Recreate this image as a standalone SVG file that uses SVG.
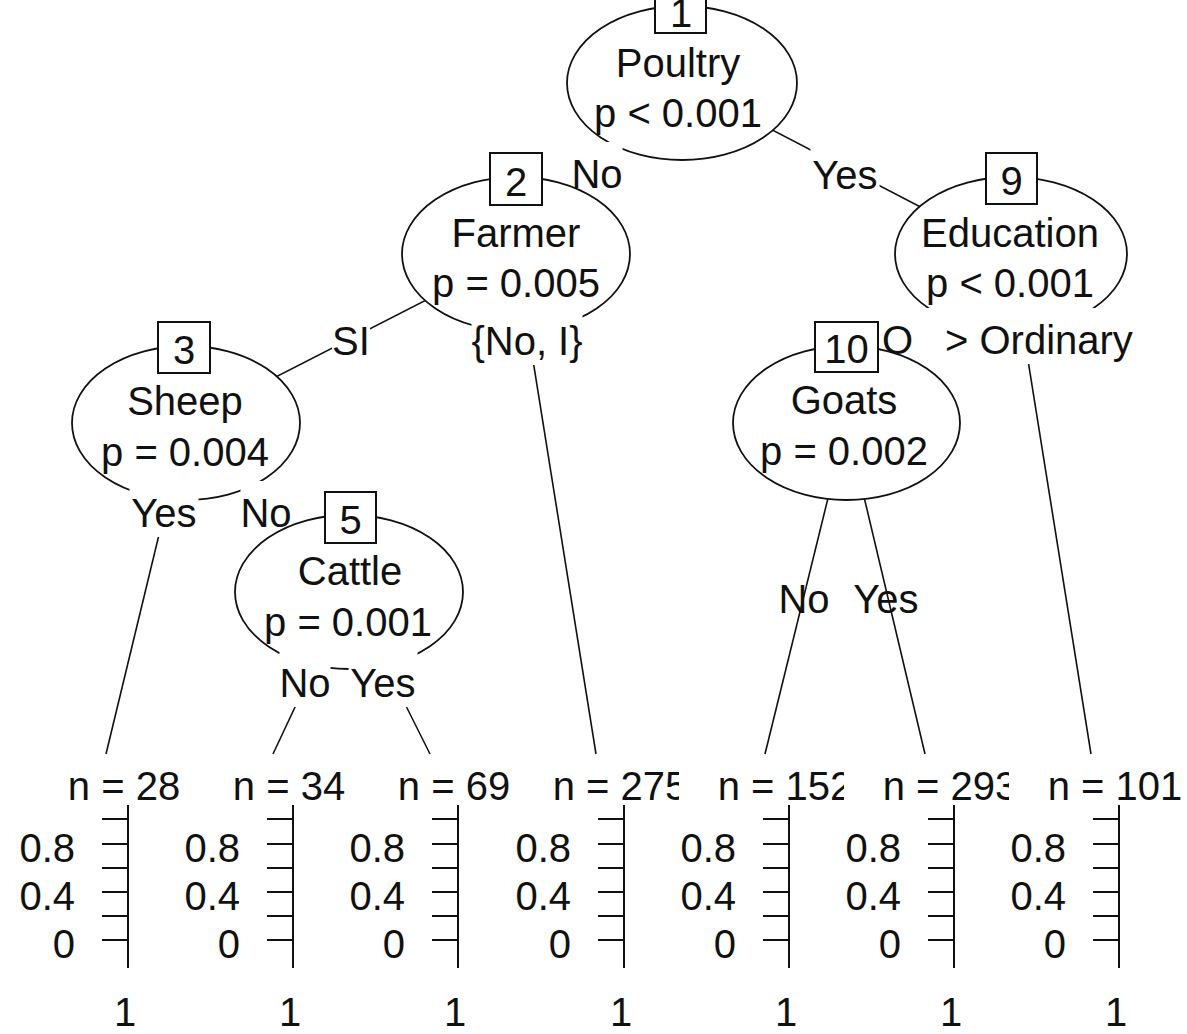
<svg xmlns="http://www.w3.org/2000/svg" width="1187" height="1034" viewBox="0 0 1187 1034">
<style>
text{font-family:"Liberation Sans",Arial,sans-serif;font-size:40px;fill:#111}
.c{text-anchor:middle}
.e{text-anchor:end}
.el{fill:#fff;stroke:#111;stroke-width:1.8}
.bx{fill:#fff;stroke:#111;stroke-width:2}
.ln{stroke:#111;stroke-width:1.6;fill:none}
.ax{stroke:#111;stroke-width:2;fill:none}
.bg{fill:#fff}
</style>
<defs>
<clipPath id="clip275"><rect x="0" y="740" width="679" height="80"/></clipPath>
<clipPath id="clip152"><rect x="0" y="740" width="844" height="80"/></clipPath>
<clipPath id="clip293"><rect x="0" y="740" width="1009" height="80"/></clipPath>
<g id="ticks">
<line x1="0" y1="805" x2="0" y2="968"/>
<line x1="-26" y1="819" x2="0" y2="819"/>
<line x1="-26" y1="844" x2="0" y2="844"/>
<line x1="-26" y1="868" x2="0" y2="868"/>
<line x1="-26" y1="892" x2="0" y2="892"/>
<line x1="-26" y1="916" x2="0" y2="916"/>
<line x1="-26" y1="940" x2="0" y2="940"/>
</g>
</defs>

<g id="connectors" class="ln">
<line x1="682" y1="83" x2="516" y2="254"/>
<line x1="682" y1="83" x2="1011" y2="254"/>
<line x1="516" y1="254" x2="186" y2="423"/>
<line x1="516" y1="254" x2="596" y2="754"/>
<line x1="186" y1="423" x2="106" y2="754"/>
<line x1="186" y1="423" x2="349" y2="592"/>
<line x1="349" y1="592" x2="273" y2="754"/>
<line x1="349" y1="592" x2="430" y2="754"/>
<line x1="1011" y1="254" x2="846.5" y2="423"/>
<line x1="1011" y1="254" x2="1091" y2="754"/>
<line x1="846.5" y1="423" x2="765" y2="754"/>
<line x1="846.5" y1="423" x2="925" y2="754"/>
</g>

<g id="node1">
<ellipse class="el" cx="682" cy="83" rx="115" ry="77"/>
<rect class="bx" x="655" y="-19" width="51" height="52"/>
<text class="c" x="681" y="27">1</text>
<text class="c" x="678" y="77">Poultry</text>
<text class="c" x="678" y="127">p &lt; 0.001</text>
</g>
<g id="labels-node1">
<rect class="bg" x="571.5" y="142" width="51" height="56"/>
<text class="c" x="597" y="188">No</text>
<rect class="bg" x="810.5" y="143" width="69" height="56"/>
<text class="c" x="845" y="189">Yes</text>
</g>

<g id="node2">
<ellipse class="el" cx="516" cy="254" rx="114" ry="77"/>
<rect class="bx" x="490" y="153" width="52" height="52"/>
<text class="c" x="516" y="196">2</text>
<text class="c" x="516" y="247">Farmer</text>
<text class="c" x="516" y="297">p = 0.005</text>
</g>
<g id="labels-node2">
<rect class="bg" x="332" y="309" width="38" height="56"/>
<text class="c" x="351" y="355">SI</text>
<rect class="bg" x="471.5" y="309" width="111" height="56"/>
<text class="c" x="527" y="355">{No, I}</text>
</g>

<g id="node3">
<ellipse class="el" cx="186" cy="423" rx="114" ry="77"/>
<rect class="bx" x="158" y="322" width="52" height="51"/>
<text class="c" x="184" y="364">3</text>
<text class="c" x="185" y="415">Sheep</text>
<text class="c" x="185" y="466">p = 0.004</text>
</g>
<g id="labels-node3">
<rect class="bg" x="129.5" y="481" width="69" height="56"/>
<text class="c" x="164" y="527">Yes</text>
<rect class="bg" x="240.5" y="481" width="51" height="56"/>
<text class="c" x="266" y="527">No</text>
</g>

<g id="node5">
<ellipse class="el" cx="349" cy="592" rx="114" ry="77"/>
<rect class="bx" x="325" y="492" width="51" height="51"/>
<text class="c" x="350.5" y="534">5</text>
<text class="c" x="350" y="585">Cattle</text>
<text class="c" x="348" y="636">p = 0.001</text>
</g>
<g id="labels-node5">
<rect class="bg" x="279.5" y="651" width="51" height="56"/>
<text class="c" x="305" y="697">No</text>
<rect class="bg" x="348.5" y="651" width="69" height="56"/>
<text class="c" x="383" y="697">Yes</text>
</g>

<g id="node9">
<ellipse class="el" cx="1011" cy="254" rx="116" ry="77"/>
<rect class="bx" x="986" y="153" width="51" height="51"/>
<text class="c" x="1011.5" y="195">9</text>
<text class="c" x="1010" y="247">Education</text>
<text class="c" x="1010" y="297">p &lt; 0.001</text>
</g>
<g id="label-node9-left">
<rect class="bg" x="878" y="308" width="67" height="56"/>
<text x="882" y="354">O</text>
</g>

<g id="node10">
<ellipse class="el" cx="846.5" cy="423" rx="113.5" ry="77"/>
<rect class="bx" x="815" y="322" width="63" height="50"/>
<text class="c" x="846.5" y="363">10</text>
<text class="c" x="844" y="414">Goats</text>
<text class="c" x="844" y="465">p = 0.002</text>
</g>
<g id="labels-node10">
<text class="c" x="804" y="613">No</text>
<text class="c" x="886" y="613">Yes</text>
</g>

<g id="label-node9-right">
<rect class="bg" x="945" y="308" width="190" height="56"/>
<text x="945" y="354">&gt; Ordinary</text>
</g>

<g id="leaf4">
<text class="c" x="124" y="800">n = 28</text>
<use href="#ticks" x="128" class="ax"/>
<text class="e" x="75" y="862">0.8</text>
<text class="e" x="75" y="910">0.4</text>
<text class="e" x="75" y="958">0</text>
<text class="c" x="125" y="1026">1</text>
</g>
<g id="leaf6">
<text class="c" x="289" y="800">n = 34</text>
<use href="#ticks" x="293" class="ax"/>
<text class="e" x="240" y="862">0.8</text>
<text class="e" x="240" y="910">0.4</text>
<text class="e" x="240" y="958">0</text>
<text class="c" x="290" y="1026">1</text>
</g>
<g id="leaf7">
<text class="c" x="454" y="800">n = 69</text>
<use href="#ticks" x="458" class="ax"/>
<text class="e" x="405" y="862">0.8</text>
<text class="e" x="405" y="910">0.4</text>
<text class="e" x="405" y="958">0</text>
<text class="c" x="455" y="1026">1</text>
</g>
<g id="leaf8">
<text class="c" x="620" y="800" clip-path="url(#clip275)">n = 275</text>
<use href="#ticks" x="624" class="ax"/>
<text class="e" x="571" y="862">0.8</text>
<text class="e" x="571" y="910">0.4</text>
<text class="e" x="571" y="958">0</text>
<text class="c" x="621" y="1026">1</text>
</g>
<g id="leaf11">
<text class="c" x="785" y="800" clip-path="url(#clip152)">n = 152</text>
<use href="#ticks" x="789" class="ax"/>
<text class="e" x="736" y="862">0.8</text>
<text class="e" x="736" y="910">0.4</text>
<text class="e" x="736" y="958">0</text>
<text class="c" x="786" y="1026">1</text>
</g>
<g id="leaf12">
<text class="c" x="950" y="800" clip-path="url(#clip293)">n = 293</text>
<use href="#ticks" x="954" class="ax"/>
<text class="e" x="901" y="862">0.8</text>
<text class="e" x="901" y="910">0.4</text>
<text class="e" x="901" y="958">0</text>
<text class="c" x="951" y="1026">1</text>
</g>
<g id="leaf13">
<text class="c" x="1115" y="800">n = 101</text>
<use href="#ticks" x="1119" class="ax"/>
<text class="e" x="1066" y="862">0.8</text>
<text class="e" x="1066" y="910">0.4</text>
<text class="e" x="1066" y="958">0</text>
<text class="c" x="1116" y="1026">1</text>
</g>
</svg>
